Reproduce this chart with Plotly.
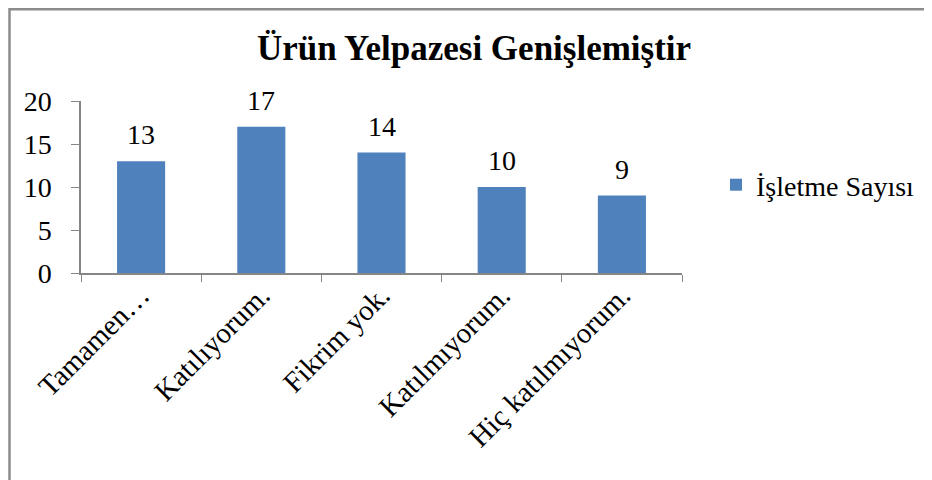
import plotly.graph_objects as go

categories = ["Tamamen…", "Katılıyorum.", "Fikrim yok.", "Katılmıyorum.", "Hiç katılmıyorum."]
values = [13, 17, 14, 10, 9]
series_name = "İşletme Sayısı"
title_text = "Ürün Yelpazesi Genişlemiştir"
y_ticks = [0, 5, 10, 15, 20]

FONT = "Liberation Serif"
W, H = 932, 480
OFF = 8  # page body margin
L, R, T, B = 81 - OFF, 682 - OFF, 101 - OFF, 273 - OFF

fig = go.Figure(go.Bar(
    x=categories, y=values, name=series_name,
    marker=dict(color="#4F81BD", line=dict(width=0)),
    width=0.4,
    showlegend=True,
))

# data labels above the bars
for c, v in zip(categories, values):
    fig.add_annotation(x=c, y=v, text=str(v), showarrow=False,
                       xanchor="center", yanchor="bottom", yshift=9,
                       font=dict(family=FONT, size=28, color="black"))

fig.update_layout(
    width=W, height=H,
    margin=dict(l=L, r=W - R, t=T, b=H - B, pad=0),
    paper_bgcolor="white", plot_bgcolor="white",
    font=dict(family=FONT, color="black"),
    title=dict(text="<b>" + title_text + "</b>", x=(474 - OFF) / W, xanchor="center",
               y=1 - (48 - OFF) / H, yanchor="middle",
               font=dict(family=FONT, size=35, color="black")),
    showlegend=True,
    legend=dict(x=(716 - OFF - L) / (R - L), y=(B - (185 - OFF)) / (B - T),
                xanchor="left", yanchor="middle",
                font=dict(family=FONT, size=28, color="black"),
                itemsizing="constant", bgcolor="rgba(0,0,0,0)"),
    bargap=0.6,
)

fig.update_xaxes(
    type="category", showline=True, linecolor="#868686", linewidth=1.5,
    ticks="outside", tickson="boundaries", ticklen=7, tickcolor="#868686",
    tickangle=-45, tickfont=dict(family=FONT, size=29, color="black"),
    ticklabelstandoff=-8,
    showgrid=False, zeroline=False,
)
fig.update_yaxes(
    range=[0, 20], tickvals=y_ticks, showline=True, linecolor="#868686", linewidth=1.5,
    ticks="outside", ticklen=8, tickcolor="#868686", ticklabelstandoff=14,
    tickfont=dict(family=FONT, size=28, color="black"),
    showgrid=False, zeroline=False,
)

# outer chart frame (top and left edges visible)
fig.add_shape(type="rect", xref="paper", yref="paper",
              x0=(9.5 - OFF - L) / (R - L), x1=(W + 20 - L) / (R - L),
              y0=(B - (H + 20)) / (B - T), y1=(B - 1.2) / (B - T),
              line=dict(color="#8C8C8C", width=2.5), layer="below")

fig.write_html("out.html")
